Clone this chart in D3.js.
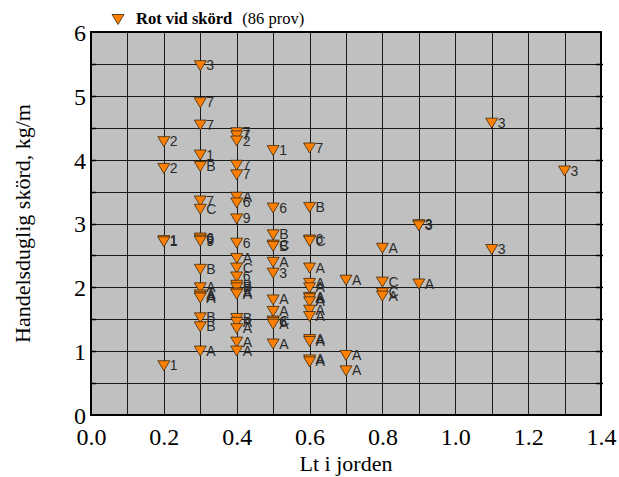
<!DOCTYPE html>
<html><head><meta charset="utf-8">
<script src="https://cdn.jsdelivr.net/npm/d3@7"></script>
<style>body{margin:0;background:#fff}svg{display:block}</style>
</head><body>
<svg id="c" width="619" height="477"></svg>
<script>
// Data: x = Lt i jorden, y = skörd (kg/m), label = sample code
const xVals = [
 0.2,0.2,0.2,0.2,0.2,
 0.3,0.3,0.3,0.3,0.3,0.3,0.3,0.3,0.3,0.3,0.3,0.3,0.3,0.3,0.3,0.3,0.3,0.3,
 0.4,0.4,0.4,0.4,0.4,0.4,0.4,0.4,0.4,0.4,0.4,0.4,0.4,0.4,0.4,0.4,0.4,0.4,0.4,0.4,0.4,
 0.5,0.5,0.5,0.5,0.5,0.5,0.5,0.5,0.5,0.5,0.5,0.5,0.5,
 0.6,0.6,0.6,0.6,0.6,0.6,0.6,0.6,0.6,0.6,0.6,0.6,0.6,0.6,0.6,0.6,
 0.7,0.7,0.7,
 0.8,0.8,0.8,0.8,
 0.9,0.9,0.9,
 1.1,1.1,
 1.3];
const yVals = [
 4.29,3.87,2.74,2.72,0.78,
 5.48,4.9,4.55,4.08,3.9,3.36,3.23,2.78,2.75,2.73,2.29,2.0,1.89,1.86,1.84,1.53,1.39,1.01,
 4.43,4.38,4.3,3.92,3.77,3.42,3.33,3.08,2.7,2.46,2.31,2.17,2.04,2.0,1.92,1.9,1.52,1.46,1.36,1.15,1.01,
 4.15,3.25,2.83,2.67,2.65,2.4,2.23,1.81,1.63,1.48,1.46,1.43,1.12,
 4.19,3.26,2.75,2.73,2.31,2.07,2.0,1.85,1.83,1.78,1.65,1.55,1.19,1.16,0.87,0.84,
 2.12,0.94,0.7,
 2.62,2.09,1.92,1.87,
 2.99,2.97,2.06,
 4.58,2.6,
 3.83];
const labels = [
 "2","2","1","1","1",
 "3","7","7","1","B","7","C","6","9","9","B","A","A","A","A","B","B","A",
 "7","7","2","7","7","A","6","9","6","A","C","6","B","B","A","A","B","A","A","A","A",
 "1","6","B","C","B","A","3","A","A","C","6","A","A",
 "7","B","6","C","A","A","A","A","A","A","A","A","A","A","A","A",
 "A","A","A",
 "A","C","C","A",
 "3","3","A",
 "3","3",
 "3"];
const xTicks = [0.0,0.2,0.4,0.6,0.8,1.0,1.2,1.4];
const yTicks = [0,1,2,3,4,5,6];
const legendTitle = "Rot vid skörd";
const legendCount = "(86 prov)";
const xTitle = "Lt i jorden";
const yTitle = "Handelsduglig skörd, kg/m";

const SERIF = "'Liberation Serif','Times New Roman',serif";
const svg = d3.select("#c");
const L = 91, R = 601, T = 32, B = 415;
const x = d3.scaleLinear().domain([0,1.4]).range([L,R]);
const y = d3.scaleLinear().domain([0,6]).range([B,T]);

svg.append("rect").attr("x",L).attr("y",T).attr("width",R-L).attr("height",B-T).attr("fill","#c0c0c0");

// grid
const gx = d3.range(1,14).map(i=>i/10);
const gy = d3.range(1,12).map(i=>i/2);
svg.append("g").selectAll("line").data(gx).join("line")
 .attr("x1",d=>Math.round(x(d))+0.5).attr("x2",d=>Math.round(x(d))+0.5)
 .attr("y1",T).attr("y2",B).attr("stroke","#1a1a1a").attr("stroke-width",1);
svg.append("g").selectAll("line").data(gy).join("line")
 .attr("y1",d=>Math.round(y(d))+0.5).attr("y2",d=>Math.round(y(d))+0.5)
 .attr("x1",L).attr("x2",R).attr("stroke","#1a1a1a").attr("stroke-width",1);

// axes
const xAxis = d3.axisBottom(x).tickValues(xTicks).tickFormat(d3.format(".1f")).tickSize(0).tickPadding(13);
const yAxis = d3.axisLeft(y).tickValues(yTicks).tickFormat(d3.format("d")).tickSize(0).tickPadding(5);
const gxA = svg.append("g").attr("transform",`translate(0,${B})`).call(xAxis);
const gyA = svg.append("g").attr("transform",`translate(${L},0)`).call(yAxis);
[gxA,gyA].forEach(g=>{
 g.select(".domain").remove();
 g.attr("font-family",SERIF).attr("font-size",24);
 g.selectAll("text").style("font-family",SERIF).style("font-size","24px").attr("fill","#000");
});
gyA.selectAll("text").attr("dy","0.35em");

// frame ticks
svg.append("g").selectAll("line").data(gy).join("line")
 .attr("x1",R-5).attr("x2",R+2).attr("y1",d=>Math.round(y(d))+0.5).attr("y2",d=>Math.round(y(d))+0.5)
 .attr("stroke","#000").attr("stroke-width",1.5);
svg.append("g").selectAll("line").data(gy).join("line")
 .attr("x1",L).attr("x2",L+5).attr("y1",d=>Math.round(y(d))+0.5).attr("y2",d=>Math.round(y(d))+0.5)
 .attr("stroke","#000").attr("stroke-width",1.5);
svg.append("rect").attr("x",L).attr("y",T).attr("width",R-L).attr("height",B-T)
 .attr("fill","none").attr("stroke","#000").attr("stroke-width",2);

// points
const tri = "M-6,-4.5L6,-4.5L0,5.5Z";
const pts = svg.append("g");
xVals.forEach((xv,i)=>{
 const g = pts.append("g").attr("transform",`translate(${x(xv)},${y(yVals[i])})`);
 g.append("path").attr("d",tri).attr("fill","#ff8000").attr("stroke","#3a2a10").attr("stroke-width",0.8);
 g.append("text").attr("x",6).attr("y",5).text(labels[i])
  .style("font-family","'Liberation Sans',Arial,sans-serif").style("font-size","14px").attr("fill","#2a2a2a");
});

// legend
svg.append("path").attr("d",tri).attr("transform","translate(118,19)").attr("fill","#ff8000").attr("stroke","#3a2a10").attr("stroke-width",0.8);
const lt = svg.append("text").attr("x",136).attr("y",24).style("font-family",SERIF).style("font-size","16.5px");
lt.append("tspan").attr("font-weight","bold").text(legendTitle);
lt.append("tspan").attr("dx",10).text(legendCount);

// titles
svg.append("text").attr("x",(L+R)/2).attr("y",471).attr("text-anchor","middle")
 .style("font-family",SERIF).style("font-size","22px").text(xTitle);
svg.append("text").attr("transform",`translate(30,${(T+B)/2}) rotate(-90)`).attr("text-anchor","middle")
 .style("font-family",SERIF).style("font-size","22px").text(yTitle);
</script>
</body></html>
